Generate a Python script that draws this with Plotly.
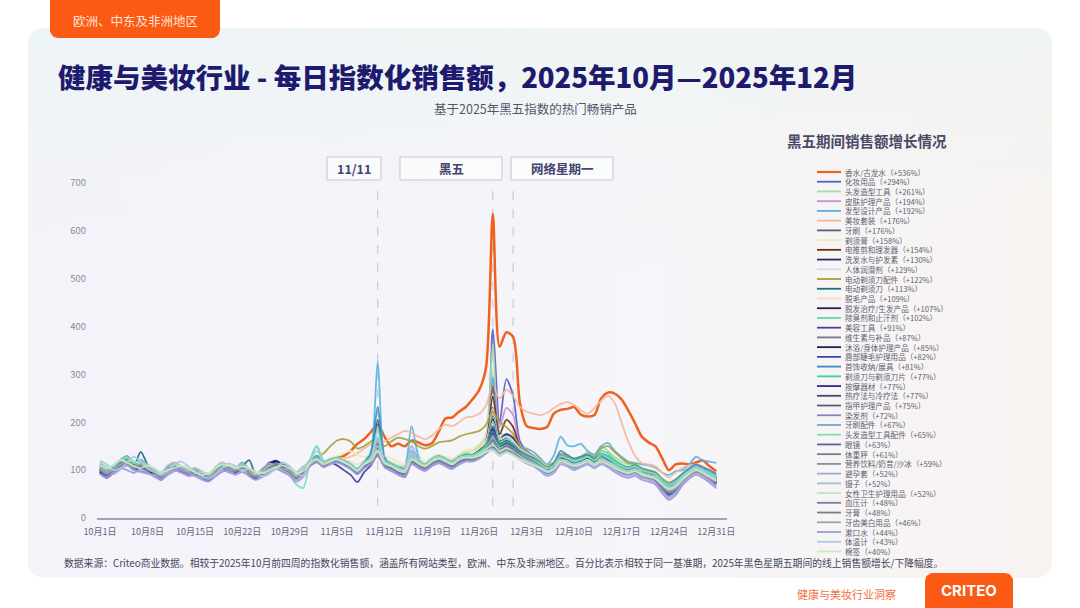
import numpy as np
import pandas as pd
import plotly.graph_objects as go

W, H = 1080, 608

# Daily index (first four weeks of Oct 2025 = 100), Oct 1 - Dec 31
dates = pd.date_range("2025-10-01", "2025-12-31", freq="D")

perfume = [105, 100, 98, 110, 118, 112, 108, 104, 100, 95, 102, 108, 104, 100, 98, 95, 92, 100, 106, 104, 100, 108, 100, 92, 98, 105, 110, 106, 100, 92, 100,
           110, 118, 112, 120, 125, 130, 140, 155, 165, 180, 195, 170, 150, 155, 150, 162, 158, 152, 156, 180, 208, 210, 222, 232, 248, 268, 315, 636, 358, 388,
           378, 240, 192, 188, 186, 190, 218, 226, 228, 232, 216, 212, 215, 250, 262, 260, 248, 225, 198, 170, 158, 150, 125, 100, 112, 114, 112, 116, 120, 108, 98]
makeup = [100, 92, 102, 115, 120, 108, 112, 104, 96, 85, 100, 106, 100, 95, 98, 88, 82, 96, 108, 104, 98, 108, 95, 85, 94, 112, 118, 108, 96, 82, 98,
          115, 122, 110, 118, 122, 115, 108, 96, 110, 120, 140, 115, 108, 100, 96, 122, 112, 106, 118, 125, 118, 112, 122, 130, 132, 140, 160, 394, 200, 290,
          255, 160, 140, 130, 118, 105, 110, 132, 128, 120, 125, 132, 122, 130, 126, 118, 110, 106, 110, 100, 95, 90, 72, 60, 70, 88, 98, 105, 100, 92, 80]
hair_tools = [118, 105, 110, 120, 128, 115, 118, 110, 104, 92, 108, 112, 106, 100, 104, 96, 90, 104, 112, 108, 104, 114, 102, 92, 100, 110, 114, 108, 102, 90, 104,
              120, 130, 118, 124, 128, 122, 114, 104, 118, 128, 160, 122, 115, 110, 104, 134, 122, 114, 126, 132, 125, 120, 130, 138, 140, 150, 175, 361, 180, 170,
              160, 150, 138, 128, 118, 108, 115, 135, 130, 124, 128, 138, 130, 150, 140, 128, 118, 112, 115, 105, 100, 96, 82, 72, 78, 92, 102, 110, 104, 96, 88]
skincare = [96, 90, 98, 110, 116, 104, 108, 100, 94, 84, 98, 104, 98, 92, 96, 88, 80, 94, 104, 100, 96, 104, 92, 84, 92, 104, 108, 100, 94, 80, 96,
            110, 118, 108, 114, 118, 112, 104, 96, 108, 116, 135, 112, 104, 98, 94, 118, 110, 104, 114, 120, 114, 110, 118, 126, 128, 138, 155, 294, 190, 230,
            215, 150, 132, 122, 112, 100, 106, 124, 120, 112, 116, 122, 114, 124, 118, 110, 104, 100, 104, 95, 90, 86, 70, 58, 66, 84, 94, 100, 96, 88, 76]
hair_styling = [112, 100, 108, 122, 130, 116, 122, 110, 102, 90, 106, 112, 106, 100, 102, 94, 86, 102, 112, 108, 104, 116, 100, 90, 98, 110, 114, 106, 100, 86, 102,
                122, 150, 118, 122, 128, 120, 112, 102, 118, 140, 326, 130, 112, 106, 110, 192, 130, 112, 124, 130, 122, 118, 128, 134, 132, 140, 160, 292, 170, 175,
                165, 150, 145, 138, 125, 112, 130, 170, 152, 150, 155, 140, 133, 150, 157, 140, 128, 118, 115, 112, 110, 105, 95, 90, 98, 100, 112, 128, 120, 118, 115]
beauty_sets = [104, 96, 100, 112, 118, 108, 112, 104, 98, 90, 102, 108, 102, 96, 98, 92, 86, 98, 108, 104, 100, 110, 96, 88, 96, 106, 110, 104, 98, 86, 100,
               115, 124, 114, 120, 126, 125, 128, 135, 145, 155, 165, 160, 168, 175, 182, 178, 170, 165, 172, 185, 195, 192, 200, 210, 212, 218, 235, 276, 250, 268,
               255, 232, 222, 218, 215, 220, 230, 238, 242, 236, 225, 218, 230, 245, 255, 240, 200, 160, 130, 115, 112, 108, 95, 85, 95, 105, 110, 112, 108, 100, 92]
toothbrush = [98, 88, 100, 112, 118, 106, 112, 102, 96, 84, 100, 106, 100, 94, 98, 90, 82, 98, 106, 102, 98, 108, 94, 84, 94, 106, 110, 102, 96, 82, 98,
              114, 124, 112, 118, 122, 116, 108, 98, 112, 122, 155, 116, 110, 102, 98, 126, 116, 108, 120, 126, 118, 112, 122, 128, 126, 136, 150, 276, 150, 160,
              150, 138, 128, 122, 112, 102, 108, 126, 122, 116, 120, 126, 118, 126, 122, 115, 108, 104, 108, 98, 94, 90, 75, 64, 72, 88, 98, 106, 100, 92, 82]
shaving_cream = [112, 102, 106, 118, 124, 112, 116, 108, 102, 92, 106, 110, 104, 98, 100, 94, 88, 100, 110, 106, 102, 110, 100, 90, 98, 108, 112, 106, 100, 88, 102,
                 118, 126, 116, 122, 130, 135, 140, 132, 128, 135, 150, 130, 125, 118, 112, 132, 124, 118, 126, 132, 128, 124, 134, 142, 146, 155, 175, 258, 170, 165,
                 160, 145, 135, 128, 120, 110, 116, 132, 128, 122, 126, 132, 124, 132, 128, 120, 112, 108, 112, 104, 100, 96, 84, 76, 82, 94, 104, 110, 104, 98, 90]
clippers = [102, 94, 100, 114, 120, 108, 114, 104, 98, 86, 102, 108, 102, 96, 98, 90, 84, 98, 108, 104, 100, 110, 96, 86, 94, 106, 110, 104, 98, 84, 98,
            116, 124, 112, 118, 124, 118, 110, 100, 114, 124, 150, 118, 112, 104, 100, 128, 118, 110, 122, 128, 122, 116, 126, 132, 132, 142, 160, 254, 175, 205,
            190, 148, 134, 126, 114, 104, 110, 130, 124, 118, 122, 128, 120, 128, 124, 116, 108, 104, 108, 100, 96, 92, 76, 66, 72, 88, 98, 106, 100, 92, 84]
shampoo = [96, 86, 98, 110, 114, 102, 108, 100, 94, 82, 98, 104, 98, 92, 96, 88, 80, 96, 106, 102, 98, 106, 94, 86, 100, 112, 118, 112, 104, 88, 100,
           112, 120, 110, 116, 120, 114, 106, 96, 110, 118, 140, 112, 106, 100, 96, 120, 112, 106, 116, 122, 116, 110, 120, 126, 126, 134, 150, 230, 165, 175,
           168, 145, 132, 124, 112, 102, 108, 128, 124, 116, 122, 130, 122, 132, 126, 116, 108, 102, 106, 96, 92, 86, 70, 58, 66, 84, 94, 102, 96, 88, 78]
lubricant = [108, 100, 104, 114, 120, 110, 114, 106, 100, 90, 104, 108, 102, 96, 100, 92, 88, 100, 108, 104, 100, 108, 98, 90, 98, 106, 110, 104, 98, 88, 100,
             112, 120, 112, 116, 120, 116, 108, 100, 112, 120, 145, 116, 110, 104, 100, 124, 114, 108, 118, 124, 118, 114, 122, 128, 128, 136, 150, 229, 160, 165,
             158, 140, 128, 120, 110, 100, 106, 122, 118, 112, 116, 122, 114, 120, 116, 108, 102, 98, 102, 94, 90, 86, 72, 62, 70, 84, 94, 100, 96, 88, 80]
shaver_parts = [100, 92, 100, 112, 118, 106, 112, 104, 98, 88, 102, 106, 100, 94, 98, 90, 84, 98, 106, 102, 98, 106, 96, 88, 96, 106, 110, 104, 98, 86, 100,
                114, 126, 135, 150, 162, 165, 160, 145, 150, 160, 165, 150, 160, 168, 165, 160, 150, 145, 150, 158, 160, 162, 170, 175, 178, 182, 195, 222, 200, 190,
                175, 150, 138, 130, 120, 110, 116, 134, 130, 124, 128, 134, 128, 145, 150, 138, 125, 115, 112, 104, 100, 96, 82, 74, 80, 92, 102, 108, 102, 94, 86]
shaver = [104, 94, 100, 112, 118, 110, 138, 112, 98, 86, 102, 108, 102, 96, 98, 90, 84, 98, 106, 102, 100, 108, 121, 92, 94, 104, 108, 102, 96, 84, 98,
          114, 124, 112, 118, 122, 116, 108, 100, 112, 124, 205, 118, 110, 104, 100, 126, 116, 110, 120, 126, 120, 114, 124, 130, 130, 138, 152, 213, 160, 168,
          158, 142, 130, 124, 114, 104, 110, 128, 124, 116, 120, 126, 118, 126, 122, 114, 106, 102, 106, 98, 94, 90, 76, 66, 72, 88, 98, 106, 100, 92, 84]
depilatory = [106, 98, 102, 112, 118, 108, 112, 104, 98, 90, 102, 106, 100, 96, 98, 92, 86, 98, 106, 102, 100, 108, 98, 90, 96, 104, 108, 102, 98, 88, 100,
              112, 120, 112, 118, 124, 122, 118, 112, 120, 128, 150, 124, 118, 112, 108, 128, 120, 114, 124, 130, 126, 122, 130, 136, 138, 146, 160, 209, 165, 170,
              160, 145, 135, 128, 118, 108, 112, 128, 124, 118, 122, 126, 120, 128, 124, 116, 108, 104, 108, 100, 96, 92, 80, 72, 78, 90, 100, 106, 100, 94, 86]
hair_loss = [94, 84, 96, 108, 112, 100, 106, 98, 92, 80, 96, 102, 96, 90, 94, 86, 78, 94, 104, 100, 96, 104, 92, 84, 98, 114, 120, 110, 100, 86, 98,
             110, 118, 108, 114, 118, 112, 104, 94, 108, 116, 130, 110, 104, 98, 94, 118, 110, 104, 114, 120, 114, 108, 118, 124, 124, 132, 148, 207, 155, 162,
             152, 138, 126, 120, 110, 100, 106, 124, 120, 112, 118, 126, 118, 128, 122, 112, 104, 100, 104, 94, 90, 84, 68, 56, 64, 82, 92, 100, 94, 86, 76]
deodorant = [110, 100, 104, 116, 122, 110, 114, 106, 100, 88, 104, 108, 102, 96, 100, 92, 86, 100, 108, 104, 102, 110, 98, 88, 96, 106, 110, 104, 98, 86, 100,
             116, 126, 114, 120, 124, 118, 110, 100, 114, 124, 165, 118, 112, 104, 100, 128, 118, 110, 122, 128, 122, 116, 126, 132, 130, 138, 152, 202, 158, 165,
             156, 140, 130, 124, 116, 106, 112, 130, 126, 120, 124, 130, 122, 140, 135, 122, 112, 106, 110, 102, 98, 94, 80, 70, 76, 90, 100, 108, 102, 96, 88]
beauty_tools = [98, 88, 100, 112, 116, 104, 110, 102, 96, 84, 100, 106, 100, 94, 96, 88, 80, 96, 106, 102, 98, 106, 94, 84, 94, 106, 112, 104, 96, 82, 98,
                112, 120, 110, 116, 110, 100, 90, 75, 96, 110, 132, 108, 100, 92, 86, 114, 106, 100, 112, 118, 112, 106, 116, 122, 122, 130, 145, 191, 150, 160,
                150, 138, 126, 120, 110, 98, 104, 124, 120, 112, 118, 124, 116, 124, 120, 110, 102, 98, 102, 92, 88, 82, 64, 52, 62, 80, 92, 100, 94, 86, 74]
vitamins = [102, 94, 100, 110, 116, 106, 110, 102, 98, 88, 100, 106, 100, 96, 98, 90, 84, 98, 106, 102, 98, 106, 96, 88, 96, 104, 108, 102, 96, 86, 98,
            112, 120, 110, 116, 120, 114, 106, 98, 110, 118, 138, 112, 106, 100, 96, 120, 112, 106, 116, 122, 116, 110, 120, 126, 126, 132, 146, 187, 150, 158,
            150, 136, 126, 120, 110, 100, 106, 124, 120, 114, 118, 124, 116, 124, 120, 112, 104, 100, 104, 96, 92, 88, 74, 64, 70, 86, 96, 104, 98, 90, 82]
body_care = [96, 86, 98, 110, 114, 102, 108, 100, 94, 82, 98, 104, 98, 92, 96, 88, 80, 96, 106, 102, 98, 106, 92, 84, 96, 110, 116, 108, 98, 84, 98,
             110, 118, 108, 114, 118, 112, 104, 96, 108, 116, 132, 110, 104, 98, 94, 118, 110, 104, 114, 120, 114, 108, 118, 124, 124, 132, 146, 185, 150, 158,
             150, 136, 126, 120, 110, 100, 106, 126, 122, 114, 120, 128, 120, 130, 124, 114, 106, 102, 106, 96, 92, 86, 70, 60, 66, 84, 94, 102, 96, 88, 78]
lip_eye = [100, 90, 100, 112, 118, 106, 110, 102, 96, 86, 100, 106, 100, 94, 96, 88, 82, 96, 106, 102, 98, 108, 94, 86, 94, 108, 114, 106, 98, 84, 98,
           114, 122, 112, 118, 120, 114, 106, 94, 110, 120, 145, 114, 106, 98, 94, 120, 112, 106, 118, 124, 118, 112, 122, 128, 128, 134, 148, 182, 150, 160,
           152, 138, 128, 120, 110, 100, 106, 126, 122, 114, 120, 126, 118, 126, 120, 112, 104, 98, 102, 94, 88, 82, 62, 48, 58, 80, 92, 100, 94, 84, 72]
jewelry = [106, 96, 102, 116, 122, 110, 116, 106, 100, 88, 104, 110, 104, 98, 100, 92, 86, 100, 110, 106, 102, 112, 98, 88, 96, 108, 112, 104, 98, 86, 100,
           118, 130, 116, 120, 124, 118, 110, 100, 116, 135, 232, 125, 110, 104, 102, 150, 120, 110, 122, 128, 120, 116, 126, 130, 130, 138, 150, 181, 152, 160,
           152, 140, 132, 126, 116, 106, 114, 140, 132, 124, 128, 132, 124, 134, 128, 118, 110, 106, 110, 102, 98, 94, 80, 72, 80, 92, 104, 112, 106, 100, 92]
razors = [112, 102, 106, 118, 124, 112, 116, 108, 102, 90, 106, 110, 104, 98, 102, 94, 88, 102, 110, 106, 102, 112, 100, 90, 98, 108, 112, 106, 100, 88, 102,
          118, 128, 116, 122, 126, 120, 112, 102, 116, 126, 150, 120, 114, 106, 102, 130, 120, 112, 124, 130, 124, 118, 128, 134, 132, 140, 152, 177, 152, 158,
          150, 138, 128, 122, 114, 104, 110, 128, 124, 118, 122, 128, 120, 135, 130, 120, 110, 104, 108, 100, 96, 92, 78, 68, 74, 88, 98, 106, 100, 94, 86]
massage = [96, 86, 98, 110, 114, 102, 108, 100, 94, 82, 98, 104, 98, 92, 94, 86, 78, 94, 104, 100, 96, 106, 92, 84, 100, 116, 114, 106, 96, 82, 96,
           110, 118, 108, 114, 118, 112, 104, 92, 106, 116, 136, 108, 100, 94, 90, 116, 108, 102, 112, 118, 112, 106, 116, 122, 122, 130, 144, 177, 146, 155,
           148, 134, 124, 118, 108, 98, 104, 124, 118, 110, 116, 124, 116, 124, 118, 108, 100, 96, 100, 90, 86, 80, 62, 50, 60, 78, 90, 98, 92, 84, 72]
heat_cold = [100, 90, 100, 112, 116, 104, 110, 102, 96, 86, 100, 106, 100, 94, 96, 88, 82, 96, 106, 102, 98, 106, 94, 86, 96, 108, 112, 104, 98, 84, 98,
             112, 122, 110, 116, 120, 114, 106, 96, 110, 118, 140, 112, 106, 98, 94, 120, 112, 106, 116, 122, 116, 110, 120, 126, 126, 132, 146, 177, 148, 156,
             148, 136, 126, 120, 110, 100, 106, 124, 120, 112, 118, 124, 116, 124, 118, 110, 102, 98, 102, 94, 90, 86, 72, 62, 68, 84, 94, 102, 96, 88, 80]
nail_care = [104, 94, 102, 114, 118, 108, 112, 104, 98, 88, 102, 108, 102, 96, 98, 90, 84, 98, 108, 104, 100, 108, 96, 88, 96, 106, 110, 104, 98, 86, 100,
             114, 124, 112, 118, 122, 116, 108, 98, 112, 120, 142, 114, 108, 100, 96, 122, 114, 108, 118, 124, 118, 112, 122, 128, 128, 134, 146, 175, 148, 156,
             146, 134, 126, 118, 108, 100, 104, 122, 118, 112, 116, 122, 114, 122, 116, 108, 100, 96, 100, 92, 88, 84, 70, 60, 66, 82, 92, 100, 94, 86, 78]
hair_dye = [92, 86, 94, 104, 110, 100, 98, 94, 90, 80, 94, 100, 96, 88, 90, 84, 78, 90, 100, 96, 92, 100, 88, 80, 96, 108, 114, 110, 100, 84, 92,
            110, 118, 108, 114, 118, 112, 104, 94, 106, 114, 135, 108, 102, 96, 92, 116, 108, 102, 112, 118, 112, 106, 116, 122, 122, 128, 142, 172, 145, 152,
            145, 132, 122, 116, 106, 96, 102, 120, 116, 108, 114, 120, 112, 120, 114, 104, 96, 92, 96, 88, 84, 78, 60, 46, 56, 76, 88, 96, 90, 80, 68]
brush_parts = [110, 96, 106, 122, 118, 106, 112, 108, 96, 86, 106, 114, 106, 94, 98, 94, 88, 98, 112, 108, 98, 112, 100, 86, 94, 104, 114, 108, 94, 80, 94,
               116, 126, 114, 120, 124, 118, 110, 100, 114, 124, 160, 118, 110, 104, 100, 140, 118, 110, 122, 128, 122, 116, 126, 130, 130, 136, 148, 167, 146, 152,
               145, 134, 126, 120, 112, 102, 108, 132, 126, 118, 122, 128, 120, 128, 124, 114, 106, 102, 106, 98, 94, 90, 76, 66, 72, 86, 98, 108, 102, 94, 86]
hair_tool_parts = [114, 104, 108, 120, 126, 114, 118, 108, 102, 90, 106, 110, 104, 98, 100, 92, 86, 100, 110, 106, 102, 112, 98, 88, 96, 106, 110, 100, 90, 70, 63,
                   120, 150, 120, 118, 122, 116, 108, 100, 114, 126, 185, 118, 110, 104, 100, 130, 118, 110, 122, 128, 122, 116, 126, 130, 130, 136, 146, 165, 146, 150,
                   145, 134, 126, 120, 112, 104, 110, 128, 124, 118, 122, 128, 120, 132, 126, 116, 108, 104, 108, 100, 96, 92, 78, 70, 76, 88, 98, 106, 100, 94, 86]
eyewear = [100, 90, 100, 112, 116, 104, 110, 102, 96, 86, 100, 106, 100, 94, 96, 88, 82, 96, 106, 102, 98, 106, 94, 86, 96, 108, 112, 104, 96, 84, 98,
           112, 120, 110, 116, 120, 114, 106, 96, 108, 116, 136, 110, 104, 98, 94, 118, 110, 104, 114, 120, 114, 108, 118, 124, 124, 130, 142, 163, 142, 150,
           144, 132, 122, 116, 106, 96, 102, 120, 116, 108, 114, 120, 112, 120, 114, 106, 98, 94, 98, 90, 86, 80, 64, 52, 60, 78, 90, 98, 92, 84, 74]
scales = [106, 96, 100, 112, 120, 110, 110, 102, 96, 90, 104, 110, 100, 94, 96, 92, 86, 96, 106, 106, 102, 106, 98, 90, 94, 104, 112, 106, 96, 88, 102,
          114, 124, 112, 118, 122, 116, 108, 98, 112, 120, 140, 114, 108, 100, 96, 122, 114, 108, 118, 124, 118, 112, 122, 128, 126, 132, 144, 161, 142, 150,
          142, 132, 124, 118, 108, 98, 104, 122, 118, 112, 116, 122, 114, 122, 116, 108, 100, 96, 100, 92, 88, 84, 70, 60, 66, 82, 92, 100, 94, 86, 78]
nutrition = [102, 94, 100, 110, 116, 106, 110, 102, 98, 88, 100, 106, 100, 96, 98, 90, 84, 98, 106, 102, 98, 106, 96, 88, 96, 104, 108, 102, 96, 86, 98,
             112, 120, 110, 116, 120, 114, 106, 98, 110, 118, 136, 112, 106, 100, 96, 120, 112, 106, 116, 122, 116, 110, 120, 126, 124, 130, 142, 159, 140, 148,
             140, 130, 122, 116, 106, 98, 104, 120, 116, 110, 114, 120, 112, 120, 114, 106, 98, 94, 98, 90, 86, 82, 68, 58, 64, 80, 90, 98, 92, 84, 76]
condoms = [104, 98, 92, 102, 110, 100, 96, 92, 90, 84, 94, 100, 94, 90, 88, 84, 86, 90, 100, 96, 90, 98, 92, 86, 88, 98, 104, 98, 90, 82, 90,
           110, 118, 108, 114, 118, 112, 104, 94, 106, 114, 134, 108, 100, 92, 88, 114, 106, 100, 110, 116, 110, 104, 114, 120, 120, 126, 138, 152, 134, 142,
           136, 126, 118, 112, 102, 92, 98, 116, 112, 104, 110, 116, 108, 116, 110, 100, 92, 88, 92, 84, 80, 74, 56, 42, 52, 72, 86, 94, 88, 78, 66]
tweezers = [114, 106, 110, 120, 114, 106, 116, 112, 100, 94, 110, 116, 108, 100, 104, 98, 90, 106, 116, 110, 104, 114, 102, 92, 104, 114, 108, 100, 104, 96, 108,
            114, 122, 112, 118, 122, 116, 108, 98, 112, 120, 150, 114, 106, 100, 96, 135, 114, 108, 118, 124, 118, 112, 122, 126, 126, 132, 142, 152, 138, 146,
            138, 128, 120, 114, 106, 96, 102, 122, 118, 110, 114, 120, 112, 120, 114, 106, 98, 94, 98, 90, 86, 82, 68, 58, 64, 80, 92, 100, 94, 86, 78]
feminine = [118, 108, 100, 110, 118, 120, 112, 104, 98, 92, 102, 112, 106, 98, 94, 96, 92, 98, 104, 110, 108, 102, 94, 92, 98, 110, 106, 100, 96, 90, 104,
            116, 124, 114, 120, 124, 118, 110, 100, 114, 122, 142, 116, 110, 102, 98, 124, 116, 110, 120, 126, 120, 114, 124, 128, 128, 134, 144, 152, 140, 146,
            138, 128, 120, 114, 106, 98, 104, 122, 118, 112, 116, 122, 114, 124, 118, 110, 102, 98, 102, 94, 90, 86, 72, 62, 68, 84, 94, 102, 96, 88, 80]
blood_pressure = [100, 90, 100, 110, 116, 104, 108, 100, 96, 86, 100, 104, 98, 94, 96, 88, 82, 96, 104, 100, 98, 106, 94, 86, 94, 106, 110, 102, 96, 84, 98,
                  112, 120, 110, 116, 120, 114, 104, 96, 108, 116, 134, 110, 104, 98, 94, 118, 110, 104, 114, 120, 114, 108, 118, 122, 122, 128, 138, 148, 134, 142,
                  136, 126, 118, 112, 104, 94, 100, 118, 114, 106, 112, 118, 110, 118, 112, 104, 96, 92, 96, 88, 84, 80, 64, 52, 60, 78, 90, 98, 92, 84, 74]
toothpaste = [102, 92, 100, 112, 116, 106, 110, 102, 96, 86, 100, 106, 100, 94, 96, 88, 82, 96, 106, 102, 98, 106, 94, 86, 94, 106, 110, 102, 96, 84, 98,
              112, 120, 110, 116, 120, 114, 106, 96, 110, 118, 136, 112, 106, 98, 94, 120, 112, 106, 116, 122, 116, 110, 120, 124, 124, 128, 138, 148, 134, 140,
              134, 124, 118, 112, 104, 96, 102, 118, 114, 108, 112, 118, 110, 118, 112, 104, 98, 94, 98, 90, 86, 82, 68, 58, 64, 80, 90, 98, 92, 84, 76]
whitening = [104, 94, 102, 112, 118, 108, 112, 104, 98, 88, 102, 106, 100, 96, 98, 90, 84, 98, 106, 102, 100, 108, 96, 88, 96, 104, 108, 102, 98, 86, 100,
             114, 122, 112, 118, 122, 116, 108, 98, 112, 120, 138, 114, 108, 100, 96, 122, 114, 108, 118, 124, 118, 112, 122, 126, 126, 130, 140, 146, 134, 140,
             134, 124, 118, 112, 104, 96, 102, 118, 114, 108, 112, 118, 110, 118, 112, 104, 98, 94, 98, 90, 86, 82, 68, 56, 62, 78, 90, 98, 92, 84, 76]
mouthwash = [92, 84, 96, 104, 100, 94, 102, 96, 86, 80, 90, 98, 104, 96, 88, 80, 76, 86, 96, 100, 92, 96, 88, 80, 86, 96, 102, 96, 88, 76, 86,
             108, 116, 106, 112, 116, 110, 102, 92, 104, 112, 130, 106, 98, 90, 86, 112, 104, 98, 108, 114, 108, 102, 112, 118, 118, 124, 134, 144, 130, 138,
             132, 122, 114, 108, 98, 88, 94, 112, 108, 100, 106, 112, 104, 112, 106, 96, 88, 84, 88, 80, 76, 70, 52, 38, 48, 68, 82, 90, 84, 74, 62]
thermometer = [120, 112, 100, 104, 116, 128, 118, 104, 96, 90, 98, 112, 118, 108, 96, 88, 82, 92, 104, 114, 108, 98, 104, 96, 86, 92, 104, 116, 108, 94, 88,
               118, 140, 116, 120, 124, 118, 110, 100, 114, 124, 170, 118, 110, 104, 100, 150, 116, 110, 120, 126, 120, 114, 124, 128, 126, 132, 140, 143, 132, 138,
               132, 124, 118, 112, 106, 98, 104, 122, 118, 110, 114, 120, 112, 120, 114, 106, 98, 94, 98, 92, 88, 84, 72, 64, 70, 84, 96, 104, 98, 90, 82]
cotton_swabs = [110, 104, 112, 122, 116, 108, 104, 110, 104, 96, 100, 104, 110, 104, 96, 90, 94, 104, 112, 110, 104, 108, 104, 96, 94, 100, 106, 110, 104, 94, 98,
                114, 122, 112, 118, 122, 116, 108, 98, 112, 120, 138, 114, 108, 100, 96, 122, 114, 108, 118, 124, 118, 112, 122, 126, 126, 130, 138, 140, 130, 136,
                130, 122, 116, 110, 104, 96, 102, 118, 114, 108, 112, 118, 110, 118, 112, 104, 98, 94, 98, 90, 86, 82, 70, 60, 66, 80, 92, 100, 94, 86, 78]

labels = ["香水/古龙水", "化妆用品", "头发造型工具", "皮肤护理产品", "发型设计产品", "美妆套装", "牙刷", "剃须膏",
          "电推剪和理发器", "洗发水与护发素", "人体润滑剂", "电动剃须刀配件", "电动剃须刀", "脱毛产品", "脱发治疗/生发产品",
          "除臭剂和止汗剂", "美容工具", "维生素与补品", "沐浴/身体护理产品", "唇部睫毛护理用品", "首饰收纳/展具",
          "剃须刀与剃须刀片", "按摩器材", "热疗法与冷疗法", "指甲护理产品", "染发剂", "牙刷配件", "头发造型工具配件", "眼镜",
          "体重秤", "营养饮料/奶昔/沙冰", "避孕套", "镊子", "女性卫生护理用品", "血压计", "牙膏", "牙齿美白用品", "漱口水",
          "体温计", "棉签"]
growth = [536, 294, 261, 194, 192, 176, 176, 158, 154, 130, 129, 122, 113, 109, 107, 102, 91, 87, 85, 82,
          81, 77, 77, 77, 75, 72, 67, 65, 63, 61, 59, 52, 52, 52, 48, 48, 46, 44, 43, 40]
colors = ["#f0601e", "#5a5fc8", "#a6dca0", "#d08ad8", "#5ab4dc", "#f5b89a", "#5a6070", "#ecebb8",
          "#6b2f1a", "#2c2a6e", "#d6dde6", "#a8a030", "#1f6f7a", "#f6d9cc", "#1f2250", "#5ed6b0",
          "#4a3fa0", "#6c7a8a", "#1c2248", "#3848b0", "#3a8ac8", "#3ad69a", "#2a2a90", "#454a6a",
          "#5a6078", "#8088c0", "#7aa6d0", "#7ee0b0", "#5e6098", "#7a7e90", "#8a8e9e", "#a0a8d8",
          "#a8bcd0", "#b8e8c0", "#7880a0", "#7a7e86", "#a0a4a8", "#9a9ae0", "#b0c8e8", "#c8ecc0"]
series = [perfume, makeup, hair_tools, skincare, hair_styling, beauty_sets, toothbrush, shaving_cream,
          clippers, shampoo, lubricant, shaver_parts, shaver, depilatory, hair_loss, deodorant,
          beauty_tools, vitamins, body_care, lip_eye, jewelry, razors, massage, heat_cold, nail_care,
          hair_dye, brush_parts, hair_tool_parts, eyewear, scales, nutrition, condoms, tweezers,
          feminine, blood_pressure, toothpaste, whitening, mouthwash, thermometer, cotton_swabs]

event_dates = ["2025-11-11", "2025-11-28", "2025-12-01"]
event_names = ["11/11", "黑五", "网络星期一"]

tick_dates = dates[::7]
tick_text = ["10月1日", "10月8日", "10月15日", "10月22日", "10月29日", "11月5日", "11月12日",
             "11月19日", "11月26日", "12月3日", "12月10日", "12月17日", "12月24日", "12月31日"]
y_ticks = [0, 100, 200, 300, 400, 500, 600, 700]

FONT = "Noto Sans CJK SC, Noto Sans, sans-serif"
ORANGE = "#fa5a14"


def rounded(x0, y0, x1, y1, r):
    # outline of a rounded box in pixel space (y grows downward)
    def arc(cx, cy, a0, a1):
        t = np.linspace(a0, a1, 10)
        return list(cx + r * np.cos(t)), list(cy + r * np.sin(t))
    xs, ys = [], []
    for px, py in [arc(x0 + r, y0 + r, np.pi, 1.5 * np.pi), arc(x1 - r, y0 + r, 1.5 * np.pi, 2 * np.pi),
                   arc(x1 - r, y1 - r, 0, 0.5 * np.pi), arc(x0 + r, y1 - r, 0.5 * np.pi, np.pi)]:
        xs += px
        ys += py
    return xs + xs[:1], ys + ys[:1]


fig = go.Figure()

# background panel (pixel-space axes x / y)
bx, by = rounded(28, 28, 1052, 578, 16)
fig.add_trace(go.Scatter(x=bx, y=by, mode="lines", line=dict(width=0), fill="toself",
                         fillgradient=dict(type="horizontal",
                                           colorscale=[[0, "#f3f3fa"], [0.6, "#f6f5f9"], [1, "#f8f3f1"]]),
                         hoverinfo="skip", showlegend=False, xaxis="x", yaxis="y"))
fig.add_trace(go.Scatter(x=bx, y=by, mode="lines", line=dict(width=0), fill="toself",
                         fillgradient=dict(type="vertical",
                                           colorscale=[[0, "rgba(250,234,226,0.0)"], [0.55, "rgba(240,246,244,0)"],
                                                       [1, "rgba(228,244,238,0.45)"]]),
                         hoverinfo="skip", showlegend=False, xaxis="x", yaxis="y"))
# region tag and logo
tx, ty = rounded(50, -12, 220, 38, 8)
fig.add_trace(go.Scatter(x=tx, y=ty, mode="lines", line=dict(width=0), fill="toself", fillcolor=ORANGE,
                         hoverinfo="skip", showlegend=False, xaxis="x", yaxis="y"))
lx, ly = rounded(925, 573, 1013, 620, 8)
fig.add_trace(go.Scatter(x=lx, y=ly, mode="lines", line=dict(width=0), fill="toself", fillcolor=ORANGE,
                         hoverinfo="skip", showlegend=False, xaxis="x", yaxis="y"))

# event marker lines
for d in event_dates:
    fig.add_trace(go.Scatter(x=[d, d], y=[25, 700], mode="lines",
                             line=dict(color="#c2c2d2", width=1, dash="dash"),
                             hoverinfo="skip", showlegend=False, xaxis="x2", yaxis="y2"))

# series in legend order: the pale tail of the list ends up on top
for i in range(len(series)):
    fig.add_trace(go.Scatter(x=dates, y=series[i], mode="lines", name=labels[i],
                             line=dict(color=colors[i], width=2.5 if i == 0 else 1.8,
                                       shape="spline", smoothing=0.8),
                             opacity=1 if i == 0 else 0.9,
                             showlegend=False, xaxis="x2", yaxis="y2"))

shapes = []
annotations = []

# event boxes
boxes = [(327, 381), (400, 502), (511, 613)]
for (x0, x1), name in zip(boxes, event_names):
    shapes.append(dict(type="rect", xref="x", yref="y", x0=x0, x1=x1, y0=157, y1=180,
                       line=dict(color="#c4c4d4", width=1), fillcolor="rgba(255,255,255,0.55)"))
    annotations.append(dict(xref="x", yref="y", x=(x0 + x1) / 2, y=168.5, text="<b>%s</b>" % name,
                            showarrow=False, font=dict(size=12.5, color="#44446e", family=FONT)))

# manual legend
for i, (name, g, c) in enumerate(zip(labels, growth, colors)):
    yy = 172 + i * 9.73
    shapes.append(dict(type="line", xref="x", yref="y", x0=817, x1=841, y0=yy, y1=yy,
                       line=dict(color=c, width=2.2 if i == 0 else 1.8)))
    annotations.append(dict(xref="x", yref="y", x=843, y=yy, xanchor="left", yanchor="middle",
                            text="%s（+%d%%）" % (name, g), showarrow=False,
                            font=dict(size=7.6, color="#5e5e70", family=FONT)))

annotations += [
    dict(xref="x", yref="y", x=135, y=20, text="欧洲、中东及非洲地区", showarrow=False,
         font=dict(size=12.5, color="#ffe3d6", family=FONT)),
    dict(xref="x", yref="y", x=56, y=76, xanchor="left",
         text="健康与美妆行业 - 每日指数化销售额，2025年10月—2025年12月", showarrow=False,
         font=dict(size=27.5, color="#1e1a6e", family=FONT, weight=900)),
    dict(xref="x", yref="y", x=535, y=108, text="基于2025年黑五指数的热门畅销产品", showarrow=False,
         font=dict(size=12.5, color="#55556a", family=FONT)),
    dict(xref="x", yref="y", x=867, y=140, text="<b>黑五期间销售额增长情况</b>", showarrow=False,
         font=dict(size=14.5, color="#4a4a68", family=FONT)),
    dict(xref="x", yref="y", x=62, y=563, xanchor="left",
         text="数据来源：Criteo商业数据。相较于2025年10月前四周的指数化销售额，涵盖所有网站类型，欧洲、中东及非洲地区。"
              "百分比表示相较于同一基准期，2025年黑色星期五期间的线上销售额增长/下降幅度。",
         showarrow=False, font=dict(size=9.8, color="#45455a", family=FONT)),
    dict(xref="x", yref="y", x=846, y=594, text="健康与美妆行业洞察", showarrow=False,
         font=dict(size=11, color="#f0703e", family=FONT)),
    dict(xref="x", yref="y", x=969, y=590, text="<b>CRITEO</b>", showarrow=False,
         font=dict(size=15, color="white", family="Inter, Roboto, sans-serif")),
]

fig.update_layout(
    width=W, height=H, margin=dict(l=0, r=0, t=0, b=0, pad=0, autoexpand=False),
    paper_bgcolor="white", plot_bgcolor="rgba(0,0,0,0)",
    showlegend=False, font=dict(family=FONT),
    xaxis=dict(domain=[0, 1], range=[0, W], visible=False, fixedrange=True, automargin=False),
    yaxis=dict(domain=[0, 1], range=[H, 0], visible=False, fixedrange=True, automargin=False),
    xaxis2=dict(domain=[97 / W, 727 / W], anchor="y2", type="date",
                range=["2025-09-30 13:00", "2026-01-01 14:00"],
                tickvals=tick_dates, ticktext=tick_text, showgrid=False, zeroline=False,
                showline=True, linecolor="#a3a3b5", linewidth=1.5, ticks="", automargin=False,
                ticklabelstandoff=4, tickfont=dict(size=9, color="#66667a")),
    yaxis2=dict(domain=[1 - 518 / H, 1 - 183 / H], anchor="x2", range=[0, 700],
                tickvals=y_ticks, showgrid=False, zeroline=False, showline=False, ticks="",
                automargin=False, ticklabelstandoff=10, tickfont=dict(size=9.5, color="#8a8a9c")),
    shapes=shapes, annotations=annotations,
)

# the page body has a default 8px margin; drop it so the figure sits at the window origin
fig.write_html("out.html", config={"displayModeBar": False},
               post_script="document.body.style.margin='0';")
